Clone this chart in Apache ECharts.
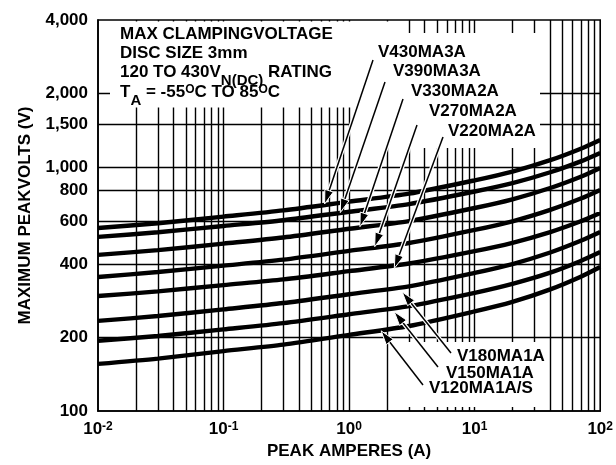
<!DOCTYPE html>
<html><head><meta charset="utf-8">
<script src="https://cdn.jsdelivr.net/npm/echarts@6/dist/echarts.min.js"></script>
<style>html,body{margin:0;padding:0;background:#fff}#c{width:616px;height:465px}</style>
</head><body><div id="c"></div>
<script>
// ---- data (peak amperes, maximum peak volts) ----
const amps = [0.01, 0.03, 0.1, 0.3, 1, 3, 10, 20, 40, 70, 100];
const v430 = [562, 588, 626, 664, 721, 777, 881, 957, 1066, 1188, 1290];
const v390 = [517, 540, 573, 605, 655, 704, 793, 858, 951, 1054, 1141];
const v330 = [436, 456, 485, 514, 558, 600, 679, 737, 820, 912, 991];
const v270 = [354, 371, 394, 417, 453, 488, 552, 599, 667, 742, 805];
const v220 = [296, 309, 328, 346, 374, 402, 452, 489, 541, 599, 648];
const v180 = [234, 245, 261, 277, 301, 324, 368, 400, 446, 498, 541];
const v150 = [194, 203, 216, 229, 249, 269, 305, 332, 369, 412, 448];
const v120 = [156, 164, 176, 187, 205, 223, 256, 280, 315, 355, 389];
const seriesNames = ['V430MA3A', 'V390MA3A', 'V330MA2A', 'V270MA2A', 'V220MA2A', 'V180MA1A', 'V150MA1A', 'V120MA1A/S'];
const seriesValues = [v430, v390, v330, v270, v220, v180, v150, v120];

const yLabelValues = [100, 200, 400, 600, 800, 1000, 1500, 2000, 4000];
const yGridValues = [200, 400, 600, 800, 1000, 1500, 2000];
const xLabelValues = [0.01, 0.1, 1, 10, 100];
const xGridValues = [0.02, 0.03, 0.04, 0.05, 0.06, 0.07, 0.08, 0.09, 0.1,
  0.2, 0.3, 0.4, 0.5, 0.6, 0.7, 0.8, 0.9, 1,
  2, 3, 4, 5, 6, 7, 8, 9, 10,
  20, 30, 40, 50, 60, 70, 80, 90];

// arrow tips in data coordinates (amps, volts), one per label
const arrowTips = [[0.638, 705], [0.851, 650], [1.22, 569], [1.60, 471], [2.29, 384], [2.65, 307], [2.29, 255], [1.80, 213]];
// ---- layout of annotations (pixels) ----
const labelPos = [[378, 52], [393, 71], [411, 91], [429, 111], [448, 131], [457, 356], [446, 373], [429, 388]];
const arrowTails = [[373, 60], [385, 82], [403, 99], [417, 125], [443, 137], [451, 353], [438, 367], [423, 385]];

const FONT = "'Liberation Sans', Arial, Helvetica, sans-serif";
const chart = echarts.init(document.getElementById('c'), null, {renderer: 'canvas'});

function fmtY(v) {
  v = Math.round(v);
  if (v >= 1000) return Math.floor(v / 1000) + ',' + String(v % 1000).padStart(3, '0');
  return String(v);
}

chart.setOption({
  animation: false,
  backgroundColor: '#fff',
  grid: {left: 98, right: 6, top: 20, bottom: 54, show: true, borderColor: '#000', borderWidth: 1.6, backgroundColor: 'transparent'},
  xAxis: {
    type: 'log', logBase: 10, min: 0.01, max: 100,
    name: 'PEAK AMPERES (A)', nameLocation: 'middle', nameGap: 30,
    nameTextStyle: {fontFamily: FONT, fontWeight: 'bold', fontSize: 17, color: '#000'},
    axisLine: {show: true, lineStyle: {color: '#000', width: 1.6}},
    axisTick: {show: false, customValues: xGridValues},
    axisLabel: {
      customValues: xLabelValues, margin: 10, color: '#000',
      formatter: v => '{b|10}{s|' + Math.round(Math.log10(v)) + '}',
      rich: {
        b: {fontFamily: FONT, fontWeight: 'bold', fontSize: 17, color: '#000', verticalAlign: 'bottom'},
        s: {fontFamily: FONT, fontWeight: 'bold', fontSize: 12, color: '#000', verticalAlign: 'top'}
      }
    },
    splitLine: {show: true, lineStyle: {color: '#000', width: 1.4}},
    minorSplitLine: {show: false}
  },
  yAxis: {
    type: 'log', logBase: 10, min: 100, max: 4000,
    name: 'MAXIMUM PEAKVOLTS (V)', nameLocation: 'middle', nameGap: 64, nameRotate: 90,
    nameTextStyle: {fontFamily: FONT, fontWeight: 'bold', fontSize: 17, color: '#000'},
    axisLine: {show: true, lineStyle: {color: '#000', width: 1.6}},
    axisTick: {show: false, customValues: yGridValues},
    axisLabel: {customValues: yLabelValues, margin: 10, color: '#000', fontFamily: FONT, fontWeight: 'bold', fontSize: 17, formatter: fmtY},
    splitLine: {show: true, lineStyle: {color: '#000', width: 1.4}}
  },
  series: seriesValues.map((vals, i) => ({
    name: seriesNames[i], type: 'line', z: 3,
    data: amps.map((a, j) => [a, vals[j]]),
    showSymbol: false, smooth: 0.25,
    lineStyle: {color: '#000', width: 4.4},
    emphasis: {disabled: true}
  }))
});

// ---- annotations ----
const g = [];
// white backgrounds of the text blocks (hide grid lines behind the text)
g.push({type: 'rect', z: 1, shape: {x: 110, y: 21.5, width: 242, height: 86}, style: {fill: '#fff'}});
g.push({type: 'rect', z: 1, shape: {x: 352, y: 21.5, width: 40, height: 12}, style: {fill: '#fff'}});
g.push({type: 'rect', z: 1, shape: {x: 352, y: 33, width: 188, height: 115}, style: {fill: '#fff'}});
g.push({type: 'rect', z: 1, shape: {x: 405, y: 342, width: 143, height: 65}, style: {fill: '#fff'}});

const txt = (text, x, y, rich) => ({
  type: 'text', z: 20,
  style: {text, x, y, fill: '#000', fontFamily: FONT, fontWeight: 'bold', fontSize: 17, verticalAlign: 'middle', align: 'left', rich}
});
const richTop = {
  n: {fontFamily: FONT, fontWeight: 'bold', fontSize: 17, fill: '#000', verticalAlign: 'top', lineHeight: 20},
  sub: {fontFamily: FONT, fontWeight: 'bold', fontSize: 15, fill: '#000', verticalAlign: 'top', lineHeight: 15, padding: [10, 0, 0, 0]},
  sup: {fontFamily: FONT, fontWeight: 'bold', fontSize: 12, fill: '#000', verticalAlign: 'top', lineHeight: 12}
};
g.push(txt('MAX CLAMPINGVOLTAGE', 120, 34.5));
g.push(txt('DISC SIZE 3mm', 120, 53.5));
g.push(txt('{n|120 TO 430V}{sub|N(DC)}{n| RATING}', 120, 73.5, richTop));
g.push(txt('{n|T}{sub|A}{n| = -55}{sup|O}{n|C TO 85}{sup|O}{n|C}', 120, 93.5, richTop));

seriesNames.forEach((name, i) => {
  g.push(txt(name, labelPos[i][0], labelPos[i][1]));
  const tip = chart.convertToPixel({gridIndex: 0}, arrowTips[i]);
  const tail = arrowTails[i];
  const dx = tip[0] - tail[0], dy = tip[1] - tail[1];
  const len = Math.sqrt(dx * dx + dy * dy);
  const ux = dx / len, uy = dy / len;
  const hl = 14, hw = 4.4;
  const bx = tip[0] - ux * hl, by = tip[1] - uy * hl;
  const nx = -uy, ny = ux;
  g.push({type: 'line', z: 18, shape: {x1: tail[0], y1: tail[1], x2: bx, y2: by}, style: {stroke: '#fff', lineWidth: 4}});
  g.push({type: 'line', z: 19, shape: {x1: tail[0], y1: tail[1], x2: bx, y2: by}, style: {stroke: '#000', lineWidth: 1.5}});
  g.push({type: 'polygon', z: 19, shape: {points: [tip, [bx + nx * hw, by + ny * hw], [bx - nx * hw, by - ny * hw]]}, style: {fill: '#000', stroke: '#fff', lineWidth: 1}});
});

chart.setOption({graphic: {elements: g}});
</script>
</body></html>
